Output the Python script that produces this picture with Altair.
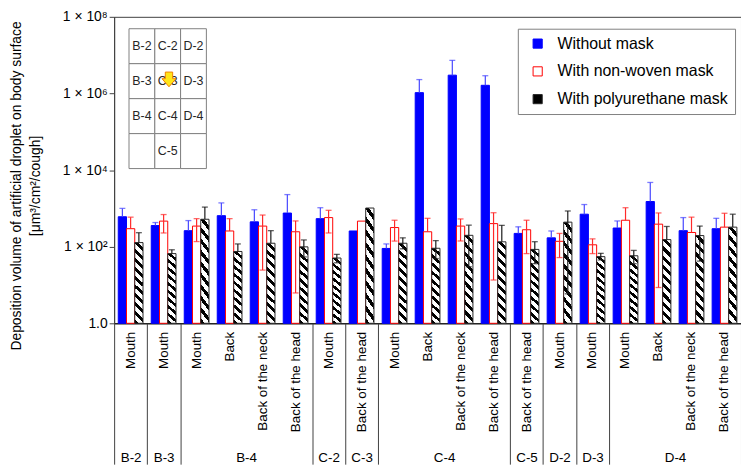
import altair as alt
import pandas as pd

# ---------------- data ----------------
groups = ["B-2", "B-3", "B-4", "B-4", "B-4", "B-4", "C-2", "C-3", "C-4", "C-4", "C-4", "C-4",
          "C-5", "D-2", "D-3", "D-4", "D-4", "D-4", "D-4"]
parts = ["Mouth", "Mouth", "Mouth", "Back", "Back of the neck", "Back of the head", "Mouth",
         "Back of the head", "Mouth", "Back", "Back of the neck", "Back of the head",
         "Back of the head", "Mouth", "Mouth", "Mouth", "Back", "Back of the neck", "Back of the head"]
series = ["Without mask", "With non-woven mask", "With polyurethane mask"]

without_val = [605, 356, 262, 645, 445, 755, 540, 257, 90, 1.05e6, 3.0e6, 1.63e6, 222, 170, 705, 307, 1510, 262, 295]
without_up = [1000, 427, 480, 1390, 920, 2290, 1040, None, 118, 2.3e6, 7.3e6, 2.9e6, 330, 257, 1260, 470, 4750, 575, 550]
without_low = [None] * 19

nonwoven_val = [295, 465, 345, 257, 345, 245, 575, 465, 316, 245, 345, 400, 277, 138, 112, 490, 387, 235, 324]
nonwoven_up = [590, 690, 540, 540, 670, 470, 890, None, 490, 550, 530, 770, 490, 222, 160, 1040, 760, 590, 745]
nonwoven_low = [None, 228, 136, None, 24.5, 6.2, 228, None, 140, None, 141, 13.5, 66, 52, 66, None, 8.6, None, None]

poly_val = [128, 66, 520, 75, 123, 99, 50.6, 1020, 123, 91, 198, 134, 85, 437, 55, 58, 153, 195, 324]
poly_up = [232, 83, 1080, 118, 262, 150, 63, None, 170, 144, 365, 360, 135, 855, 67, 80, 337, 345, 705]
poly_low = [None, None, None, None, None, 54, 38, None, 88, 49, 30, None, 36, 5.9, 45, 36, None, 42, None]

# inset map of the body-surface positions
inset_labels = [["B-2", "C-2", "D-2"],
                ["B-3", "C-3", "D-3"],
                ["B-4", "C-4", "D-4"],
                ["", "C-5", ""]]
arrow_pos = {"col": 1.55, "row": 1.45}

# ---------------- tables ----------------
keys = [f"{g}|{p}" for g, p in zip(groups, parts)]
vals = {series[0]: (without_val, without_up, without_low),
        series[1]: (nonwoven_val, nonwoven_up, nonwoven_low),
        series[2]: (poly_val, poly_up, poly_low)}

bar_rows, err_rows, cap_rows = [], [], []
for s, (v, up, lo) in vals.items():
    for i, k in enumerate(keys):
        bar_rows.append({"key": k, "series": s, "value": v[i]})
        if up[i] is not None:
            low = lo[i] if lo[i] is not None else v[i]
            err_rows.append({"key": k, "series": s, "lo": low, "hi": up[i]})
            cap_rows.append({"key": k, "series": s, "y": up[i]})
            if lo[i] is not None:
                cap_rows.append({"key": k, "series": s, "y": lo[i]})
bars = pd.DataFrame(bar_rows)
errs = pd.DataFrame(err_rows)
caps = pd.DataFrame(cap_rows)

grp_names, grp_sizes = [], []
for g in groups:
    if grp_names and grp_names[-1] == g:
        grp_sizes[-1] += 1
    else:
        grp_names.append(g)
        grp_sizes.append(1)
bounds = [0]
for n in grp_sizes:
    bounds.append(bounds[-1] + n)
centers = [(bounds[i] + bounds[i + 1]) / 2 for i in range(len(grp_names))]
N = len(keys)

cells = pd.DataFrame([{"col": c, "row": r, "label": inset_labels[r][c]}
                      for r in range(len(inset_labels)) for c in range(3)])

# ---------------- styles ----------------
FONT = "Liberation Sans"
W, H = 632, 309
fill_range = ["#0000FF", "#FFFFFF", "#000000"]
stroke_range = ["#0000FF", "#FF0000", "#262626"]
err_colors = {series[0]: "#4646FF", series[1]: "#FF2A2A", series[2]: "#1A1A1A"}

# diagonal hatch as a hard-stop linear gradient
r = 10.0
c = (1 + r) / (1 + r * r)
nst = 10
stops = []
for k in range(nst):
    a, b, e = k / nst, (k + 0.45) / nst, (k + 1) / nst
    stops += [{"offset": a, "color": "#000000"}, {"offset": b, "color": "#000000"},
              {"offset": b, "color": "#FFFFFF"}, {"offset": e, "color": "#FFFFFF"}]
HATCH = {"gradient": "linear", "x1": 0, "y1": 1, "x2": c, "y2": 1 - c * r, "stops": stops}

sup = "['⁰','¹','²','³','⁴','⁵','⁶','⁷','⁸']"

x_main = alt.X("key:N", sort=keys, scale=alt.Scale(paddingInner=0, paddingOuter=0),
               axis=alt.Axis(title=None, labelExpr="split(datum.label, '|')[1]", labelAngle=-90,
                             ticks=False, tickSize=0, labelPadding=8, labelFontSize=13.5,
                             domainColor="#000000", labelColor="#000000", labelFont=FONT))
xoff = alt.XOffset("series:N", sort=series,
                   scale=alt.Scale(domain=series, paddingInner=0, paddingOuter=0.5))
yscale = alt.Scale(type="log", domain=[1, 1e8], nice=False)
y_main = alt.Y("value:Q", scale=yscale,
               axis=alt.Axis(values=[1, 1e2, 1e4, 1e6, 1e8],
                             labelExpr=f"datum.value == 1 ? '1.0' : '1 × 10' + {sup}[round(log(datum.value)/LN10)]",
                             labelFontSize=14, labelFont=FONT, labelColor="#000000",
                             tickSize=5, tickColor="#404040", domainColor="#404040", grid=False,
                             title=["Deposition volume of artificial droplet on body surface",
                                    "[μm³/cm²/cough]"],
                             titleFontSize=14, titleFontWeight="normal", titleFont=FONT,
                             titleColor="#000000", titleX=-91, titleY=170, titleLineHeight=19))

legend = alt.Legend(title=None, orient="none", legendX=407, legendY=12, symbolType="square",
                    symbolSize=85, symbolStrokeWidth=1, labelFontSize=16, labelFont=FONT,
                    labelColor="#000000", labelLimit=300, padding=7, rowPadding=12, labelOffset=12,
                    symbolOffset=5, strokeColor="#7F7F7F", fillColor="#FFFFFF")

layer_a = alt.Chart(bars[bars.series != series[2]]).mark_bar(strokeWidth=1).encode(
    x=x_main, xOffset=xoff, y=y_main, y2=alt.datum(1),
    fill=alt.Fill("series:N", sort=series, scale=alt.Scale(domain=series, range=fill_range), legend=legend),
    stroke=alt.Stroke("series:N", sort=series, scale=alt.Scale(domain=series, range=stroke_range), legend=legend),
)
layer_b = alt.Chart(bars[bars.series == series[2]]).mark_bar(
    fill=HATCH, stroke="#262626", strokeWidth=1).encode(
    x=x_main, xOffset=xoff, y=y_main, y2=alt.datum(1))

err_layers = []
for s in series:
    e = errs[errs.series == s]
    cp = caps[caps.series == s]
    err_layers.append(alt.Chart(e).mark_rule(color=err_colors[s], strokeWidth=1.2).encode(
        x=x_main, xOffset=xoff, y=alt.Y("lo:Q", scale=yscale), y2="hi:Q"))
    err_layers.append(alt.Chart(cp).mark_tick(color=err_colors[s], size=6, thickness=1.3).encode(
        x=x_main, xOffset=xoff, y=alt.Y("y:Q", scale=yscale)))

main = alt.layer(layer_a, layer_b, *err_layers)

bnd = alt.Chart(pd.DataFrame({"b": bounds})).mark_rule(strokeOpacity=0).encode(
    x=alt.X("b:Q", scale=alt.Scale(domain=[0, N], nice=False, zero=False),
            axis=alt.Axis(orient="bottom", values=bounds, labels=False, domain=False, ticks=True,
                          tickSize=142, tickColor="#404040", tickWidth=1, grid=False, title=None)))

grp_expr = "[" + ",".join(f"'{g}'" for g in grp_names) + "][indexof([" + ",".join(str(v) for v in centers) + "], datum.value)]"
grp = alt.Chart(pd.DataFrame({"c": centers})).mark_rule(strokeOpacity=0).encode(
    x=alt.X("c:Q", scale=alt.Scale(domain=[0, N], nice=False, zero=False),
            axis=alt.Axis(orient="bottom", values=centers, labelExpr=grp_expr, ticks=False,
                          tickSize=0, domain=False, grid=False, labelPadding=128, labelFontSize=13.5,
                          labelFont=FONT, labelColor="#000000", title=None, labelFlush=False,
                          labelOverlap=False, labelBound=False)))

ix = alt.Scale(domain=[0, 3], range=[15, 93], nice=False, zero=False)
iy = alt.Scale(domain=[0, 4], range=[12, 153], nice=False, zero=False)
inset_cells = alt.Chart(cells).transform_calculate(
    col2="datum.col + 1", row2="datum.row + 1").mark_rect(
    fill="#FFFFFF", stroke="#808080", strokeWidth=1).encode(
    x=alt.X("col:Q", scale=ix, axis=None), x2="col2:Q",
    y=alt.Y("row:Q", scale=iy, axis=None), y2="row2:Q")
inset_text = alt.Chart(cells).transform_calculate(
    cx="datum.col + 0.5", cy="datum.row + 0.5").mark_text(
    fontSize=12.5, font=FONT, color="#262626").encode(
    x=alt.X("cx:Q", scale=ix, axis=None), y=alt.Y("cy:Q", scale=iy, axis=None), text="label:N")
ARROW = "M-0.5,-1L0.5,-1L0.5,-0.1L0.95,-0.1L0,1L-0.95,-0.1L-0.5,-0.1Z"
inset_arrow = alt.Chart(pd.DataFrame([arrow_pos])).mark_point(
    shape=ARROW, size=220, filled=True, fill="#FFE619", stroke="#F08000", strokeWidth=1, opacity=1).encode(
    x=alt.X("col:Q", scale=ix, axis=None), y=alt.Y("row:Q", scale=iy, axis=None))
inset = alt.layer(inset_cells, inset_text, inset_arrow)

chart = alt.layer(main, bnd, grp, inset).resolve_scale(
    x="independent", y="independent").properties(
    width=W, height=H, autosize=alt.AutoSizeParams(type="none"),
    padding={"left": 107, "top": 7, "right": 0, "bottom": 146}).configure_view(
    stroke="#404040", strokeWidth=1).configure_axis(grid=False)

chart.save("out.html", embed_options={"renderer": "svg", "actions": False})
